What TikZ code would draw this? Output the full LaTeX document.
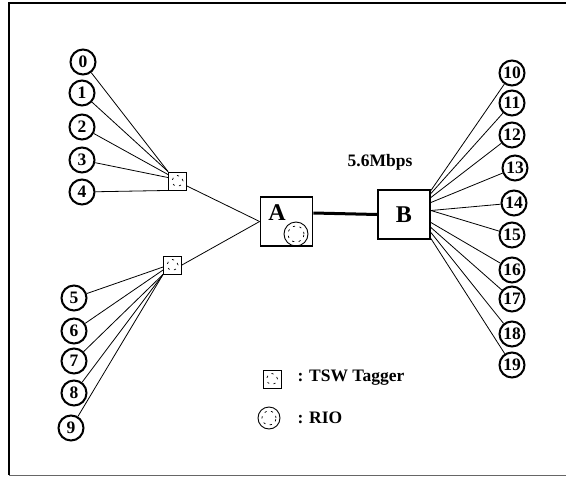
\documentclass[tikz,border=0pt]{standalone}
\usepackage{fontspec}
\setmainfont{Liberation Serif}
\usetikzlibrary{calc}

\begin{document}
\begin{tikzpicture}[x=1pt,y=-1pt,
  host/.style={circle,draw,line width=2pt,minimum size=25pt,inner sep=0pt,font=\fontsize{17.5}{17.5}\selectfont\bfseries},
  tagger/.style={draw,line width=0.9pt,minimum size=18pt,inner sep=0pt},
  rio/.style={circle,draw,line width=0.9pt,minimum size=24pt,inner sep=0pt},
  router/.style={draw,line width=1.8pt,minimum width=52pt,minimum height=49pt,inner sep=0pt,font=\fontsize{24}{24}\selectfont\bfseries},
  link/.style={line width=0.8pt},
  marks/.style={line width=0.7pt,dash pattern=on 2.2pt off 4.5pt},
  txt/.style={font=\fontsize{17.5}{17.5}\selectfont\bfseries}]
\useasboundingbox (0,0) rectangle (566,477);
\draw[line width=1.8pt] (566,3)--(9,3)--(9,475);
\draw[line width=0.9pt,black!60] (9,475)--(566,475);

% hosts
\foreach \n/\x/\y in {0/83/62,1/82/93,2/82/127,3/82/160,4/82/192,5/74/298,6/74/331,7/74/361,8/74/393,9/71/428}
  \node[host] (h\n) at (\x,\y) {\n};
\foreach \n/\x/\y in {10/512/73,11/512/103,12/512/135,13/515/168,14/514/203,15/512/235,16/512/270,17/512/299,18/512/334,19/512/365}
  \node[host] (h\n) at (\x,\y) {\n};

% taggers and routers
\node[tagger] (tu) at (177.5,181) {};
\node[tagger] (tl) at (172.5,265) {};
\node[router] (A) at (286.5,221.5) {};
\node[font=\fontsize{24}{24}\selectfont\bfseries] (Atext) at (277,213) {A};
\node[rio] (rioA) at (296,234) {};
\node[router] (B) at (404,214.5) {B};
\foreach \t in {tu,tl} \draw[marks] (\t) circle (5.5pt);
\draw[marks] (rioA) circle (8pt);

% links
\draw[link] (h0) -- (tu.north west);
\draw[link] (h1) -- (tu.north west);
\draw[link] (h2) -- ([yshift=-3pt]tu.north west);
\draw[link] (h3) -- ([yshift=-6pt]tu.north west);
\draw[link] (h4) -- (tu.south west);
\draw[link] (h5) -- ([yshift=-2pt]tl.west);
\draw[link] (h6) -- ([yshift=-5pt]tl.west);
\foreach \n in {7,8,9} \draw[link] (h\n) -- (tl.south west);
\draw[link] ([yshift=-5pt]tu.east) -- (A.west);
\draw[link] (tl.east) -- (A.west);
\draw[line width=3pt] ([yshift=8.5pt]A.east) -- (B.west);
\foreach \n/\s in {10/24,11/21,12/17,13/12,14/4,15/4,16/-8,17/-13,18/-18,19/-24}
  \draw[link] ([yshift=\s pt]B.east) -- (h\n);
\node[txt] (rate) at (380,162) {5.6Mbps};

% legend
\node[tagger] (keytag) at (272,379) {};
\draw[marks] (keytag) circle (5.5pt);
\node[txt,anchor=west] (keytagtxt) at (294,378) {: TSW Tagger};
\node[rio,minimum size=22pt] (keyrio) at (269,418) {};
\draw[marks] (keyrio) circle (7pt);
\node[txt,anchor=west] (keyriotxt) at (294,418) {: RIO};
\end{tikzpicture}
\end{document}
